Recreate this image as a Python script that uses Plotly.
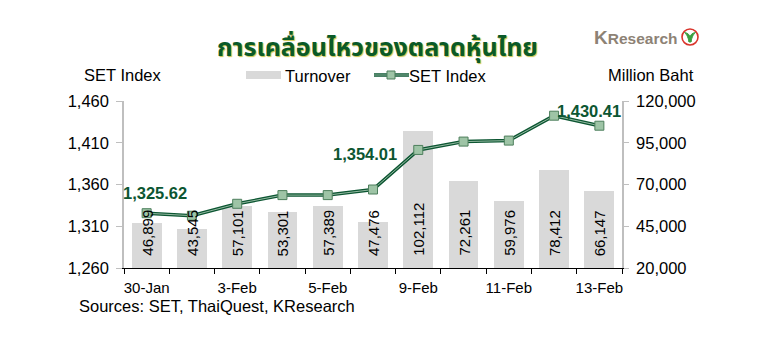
import plotly.graph_objects as go

dates = ["30-Jan", "2-Feb", "3-Feb", "4-Feb", "5-Feb", "6-Feb", "9-Feb", "10-Feb", "11-Feb", "12-Feb", "13-Feb"]
set_index = [1325.62, 1322.6, 1336.9, 1347.3, 1347.3, 1354.01, 1401.4, 1411.4, 1412.6, 1442.4, 1430.41]
turnover = [46899, 43545, 57101, 53301, 57389, 47476, 102112, 72261, 59976, 78412, 66147]
labeled_points = [0, 5, 10]
left_ticks = [1260, 1310, 1360, 1410, 1460]
right_ticks = [20000, 45000, 70000, 95000, 120000]

W, H = 773, 356
L, R, T, B = 124, 622, 101, 268


def fx(px):
    return (px - L) / (R - L)


def fy(py):
    return (B - py) / (B - T)


FONT = "Liberation Sans, Arial, sans-serif"
GREEN = "#0c5632"
FS = 16.5
x = list(range(len(dates)))

fig = go.Figure()
fig.add_trace(go.Bar(x=x, y=turnover, marker=dict(color="#d9d9d9", line=dict(width=0)),
                     width=0.66, yaxis="y", showlegend=False, hoverinfo="skip"))
fig.add_trace(go.Scatter(x=x, y=set_index, yaxis="y2", mode="lines",
                         line=dict(color=GREEN, width=3.5), showlegend=False))
fig.add_trace(go.Scatter(x=x, y=set_index, yaxis="y2", mode="lines+markers",
                         line=dict(color="#b9d3bf", width=0.8),
                         marker=dict(symbol="square", size=9, color="#9ec4a6",
                                     line=dict(color="#4d7f5c", width=1)),
                         showlegend=False))

annotations = []
# bar value labels (rotated, inside bars near the bottom)
for i, v in enumerate(turnover):
    annotations.append(dict(x=i, y=right_ticks[0], xref="x", yref="y", text=f"{v:,}",
                            textangle=-90, showarrow=False, xanchor="center", yanchor="bottom",
                            yshift=10, font=dict(family=FONT, size=15, color="black")))

# SET value labels
shifts = {0: (8, 20), 5: (-8, 36), 10: (-10, 15)}
for i in labeled_points:
    dx, dy = shifts[i]
    annotations.append(dict(x=i, y=set_index[i], xref="x", yref="y2", text=f"<b>{set_index[i]:,.2f}</b>",
                            showarrow=False, xshift=dx, yshift=dy,
                            font=dict(family=FONT, size=FS, color=GREEN)))

# title
annotations.append(dict(x=fx(377), y=fy(48), xref="paper", yref="paper",
                        text="<b>การเคลื่อนไหวของตลาดหุ้นไทย</b>", showarrow=False,
                        height=34, valign="middle", borderpad=0,
                        font=dict(family="Noto Sans Thai, Tahoma, Noto Sans, sans-serif", size=25, color="#0a5a28",
                                  shadow="1px 1px 1px #c9c24a"),
                        xanchor="center", yanchor="middle"))
# logo text
annotations.append(dict(x=fx(592), y=fy(37), xref="paper", yref="paper",
                        text="<b><span style='font-size:19px'>K</span>Research</b>", showarrow=False,
                        font=dict(family=FONT, size=15.5, color="#8d8275"),
                        xanchor="left", yanchor="middle"))
# axis headers
annotations.append(dict(x=fx(82), y=fy(75), xref="paper", yref="paper", text="SET Index",
                        showarrow=False, xanchor="left", yanchor="middle",
                        font=dict(family=FONT, size=FS, color="black")))
annotations.append(dict(x=fx(606), y=fy(75), xref="paper", yref="paper", text="Million Baht",
                        showarrow=False, xanchor="left", yanchor="middle",
                        font=dict(family=FONT, size=FS, color="black")))
# legend texts
annotations.append(dict(x=fx(284), y=fy(75.5), xref="paper", yref="paper", text="Turnover",
                        showarrow=False, xanchor="left", yanchor="middle", borderpad=0,
                        font=dict(family=FONT, size=FS, color="black")))
annotations.append(dict(x=fx(408), y=fy(75.5), xref="paper", yref="paper", text="SET Index",
                        showarrow=False, xanchor="left", yanchor="middle", borderpad=0,
                        font=dict(family=FONT, size=FS, color="black")))
# source
annotations.append(dict(x=fx(77), y=fy(306), xref="paper", yref="paper",
                        text="Sources: SET, ThaiQuest, KResearch", showarrow=False,
                        xanchor="left", yanchor="middle",
                        font=dict(family=FONT, size=FS, color="black")))

shapes = [
    # legend: turnover swatch
    dict(type="rect", xref="paper", yref="paper", x0=fx(246), x1=fx(281), y0=fy(79), y1=fy(71),
         fillcolor="#d9d9d9", line=dict(width=0)),
    # legend: SET line
    dict(type="line", xref="paper", yref="paper", x0=fx(374), x1=fx(409), y0=fy(75), y1=fy(75),
         line=dict(color=GREEN, width=3.5)),
    dict(type="line", xref="paper", yref="paper", x0=fx(374), x1=fx(409), y0=fy(75), y1=fy(75),
         line=dict(color="#b9d3bf", width=0.8)),
    dict(type="rect", xref="paper", yref="paper", x0=fx(387), x1=fx(395), y0=fy(79), y1=fy(71),
         fillcolor="#9ec4a6", line=dict(color="#4d7f5c", width=1)),
    # logo circle
    dict(type="circle", xref="paper", yref="paper", x0=fx(682), x1=fx(698), y0=fy(45), y1=fy(29),
         fillcolor="white", line=dict(color="#d9342b", width=1.6)),
    dict(type="path", xref="paper", yref="paper",
         path=f"M {fx(689)},{fy(42)} C {fx(688)},{fy(36)} {fx(686)},{fy(34)} {fx(684.5)},{fy(32.5)} "
              f"C {fx(688)},{fy(33)} {fx(690)},{fy(35)} {fx(690)},{fy(38)} Z",
         fillcolor="#3aa040", line=dict(color="#3aa040", width=1)),
    dict(type="path", xref="paper", yref="paper",
         path=f"M {fx(691)},{fy(42)} C {fx(692)},{fy(36)} {fx(694)},{fy(34)} {fx(695.5)},{fy(32.5)} "
              f"C {fx(692)},{fy(33)} {fx(690)},{fy(35)} {fx(690)},{fy(38)} Z",
         fillcolor="#3aa040", line=dict(color="#3aa040", width=1)),
    dict(type="line", xref="paper", yref="paper", x0=fx(690), x1=fx(690), y0=fy(42.5), y1=fy(36),
         line=dict(color="#3aa040", width=2)),
]

axis_font = dict(family=FONT, size=FS, color="black")
fig.update_layout(
    width=W, height=H,
    margin=dict(l=L, r=W - R, t=T, b=H - B),
    paper_bgcolor="white", plot_bgcolor="white",
    showlegend=False, bargap=0,
    annotations=annotations, shapes=shapes,
    xaxis=dict(range=[-0.5, len(dates) - 0.5], tickmode="array", tickvals=x[::2], ticktext=dates[::2],
               ticks="", showline=True, linecolor="black", linewidth=1, showgrid=False, zeroline=False,
               tickfont=dict(family=FONT, size=15, color="black"), ticklabelstandoff=6,
               minor=dict(tickmode="array", tickvals=[i - 0.5 for i in range(len(dates) + 1)],
                          ticks="outside", ticklen=5, tickcolor="black", tickwidth=1, showgrid=False)),
    yaxis=dict(side="right", range=[right_ticks[0], right_ticks[-1]], tickvals=right_ticks,
               tickformat=",", showline=True, linecolor="#bfbfbf", linewidth=1.5, ticks="outside",
               ticklen=5, tickcolor="#bfbfbf", showgrid=False, zeroline=False, tickfont=axis_font,
               ticklabelstandoff=4),
    yaxis2=dict(side="left", overlaying="y", range=[left_ticks[0], left_ticks[-1]], tickvals=left_ticks,
                tickformat=",", showline=True, linecolor="#bfbfbf", linewidth=1.5, ticks="outside",
                ticklen=6, tickcolor="#bfbfbf", showgrid=False, zeroline=False, tickfont=axis_font,
                ticklabelstandoff=4),
)

fig.write_html("out.html")
